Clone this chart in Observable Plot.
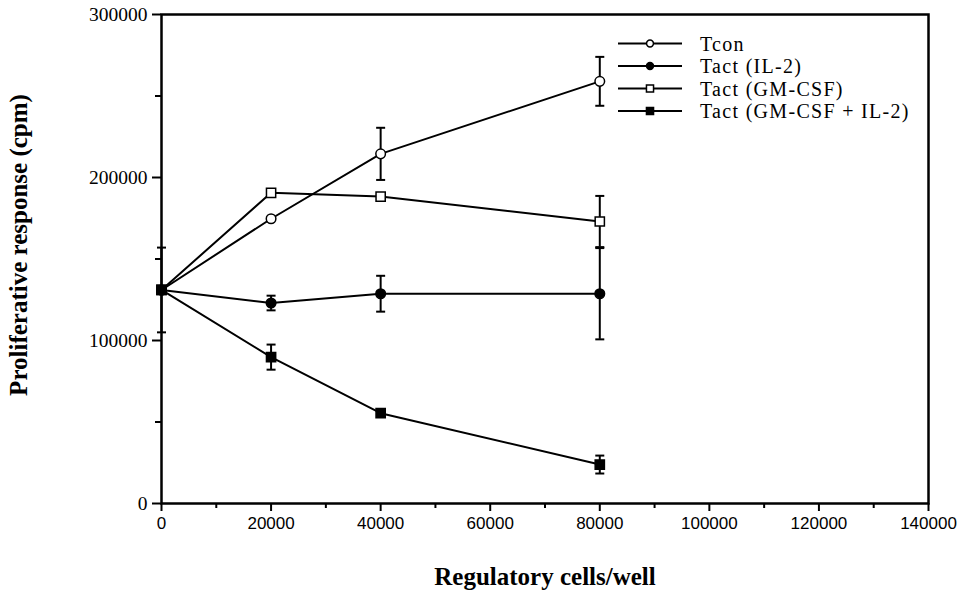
<!DOCTYPE html>
<html>
<head>
<meta charset="utf-8">
<script src="https://cdn.jsdelivr.net/npm/d3@7"></script>
<script src="https://cdn.jsdelivr.net/npm/@observablehq/plot@0.6"></script>
<style>
  html, body { margin: 0; padding: 0; background: #fff; }
  #chart svg { display: block; }
</style>
</head>
<body>
<div id="chart"></div>
<script>
// ---- data ----
const cellsPerWell = [0, 20000, 40000, 80000];
const seriesNames = ["Tcon", "Tact (IL-2)", "Tact (GM-CSF)", "Tact (GM-CSF + IL-2)"];
const tcon      = [131000, 174700, 214500, 259000];
const tconErr   = [26000, 0, 16000, 15000];
const tactIL2   = [131000, 123000, 128700, 128700];
const tactIL2Err= [0, 4500, 11000, 28000];
const tactGM    = [131000, 190600, 188300, 173000];
const tactGMErr = [0, 0, 0, 15700];
const tactGMIL2 = [131000, 89800, 55400, 23900];
const tactGMIL2Err = [0, 7700, 0, 5500];
const xMajorTicks = [0, 20000, 40000, 60000, 80000, 100000, 120000, 140000];
const xMinorTicks = [10000, 30000, 50000, 70000, 90000, 110000, 130000];
const yMajorTicks = [0, 100000, 200000, 300000];
const yMinorTicks = [50000, 150000, 250000];

const seriesValues = [tcon, tactIL2, tactGM, tactGMIL2];
const seriesErrors = [tconErr, tactIL2Err, tactGMErr, tactGMIL2Err];
const seriesSymbol = ["circle", "circle", "square", "square"];
const seriesFill = ["white", "black", "white", "black"];

const rows = [];
seriesNames.forEach((s, i) => {
  cellsPerWell.forEach((x, j) => {
    rows.push({series: s, si: i, x, y: seriesValues[i][j], err: seriesErrors[i][j]});
  });
});
const errRows = rows.filter(d => d.err > 0);
const caps = errRows.flatMap(d => [{x: d.x, y: d.y + d.err}, {x: d.x, y: d.y - d.err}]);

const capSymbol = {
  draw(context, size) {
    const w = Math.sqrt(size / Math.PI);
    context.moveTo(-w, 0);
    context.lineTo(w, 0);
  }
};

const serif = "'Liberation Serif', 'Times New Roman', serif";
const narrow = "'Liberation Sans Narrow', 'Arial Narrow', 'Liberation Sans', sans-serif";

const marks = [
  Plot.axisX({ticks: xMajorTicks, tickSize: 8, tickPadding: 5, strokeWidth: 2,
    tickFormat: d => String(d), fontFamily: narrow, fontSize: 17, label: null}),
  Plot.axisX({ticks: xMinorTicks, tickSize: 5, strokeWidth: 2, tickFormat: () => "", label: null}),
  Plot.axisY({ticks: yMajorTicks, tickSize: 9, tickPadding: 5, strokeWidth: 2,
    tickFormat: d => String(d), fontFamily: serif, fontSize: 19.5, label: null}),
  Plot.axisY({ticks: yMinorTicks, tickSize: 6, strokeWidth: 2, tickFormat: () => "", label: null}),
  Plot.frame({stroke: "black", strokeWidth: 2.5}),
  Plot.text(["Regulatory cells/well"], {frameAnchor: "bottom", dy: 73, textAnchor: "middle",
    lineAnchor: "middle", fontFamily: serif, fontWeight: "bold", fontSize: 25,
    style: {letterSpacing: "2px"}}),
  Plot.text(["Proliferative response (cpm)"], {frameAnchor: "left", dx: -143, dy: -14, rotate: -90,
    textAnchor: "middle", lineAnchor: "middle", fontFamily: serif, fontWeight: "bold", fontSize: 25}),
  Plot.line(rows, {x: "x", y: "y", z: "series", stroke: "black", strokeWidth: 2}),
  Plot.ruleX(errRows, {x: "x", y1: d => d.y - d.err, y2: d => d.y + d.err, stroke: "black", strokeWidth: 2}),
  Plot.dot(caps, {x: "x", y: "y", symbol: capSymbol, r: 4.5, stroke: "black", strokeWidth: 2}),
  Plot.dot(rows, {x: "x", y: "y", symbol: d => seriesSymbol[d.si], r: d => seriesSymbol[d.si] === "square" ? 5.2 : 4.8,
    fill: d => seriesFill[d.si], stroke: "black", strokeWidth: 1.5})
];

const chart = Plot.plot({
  width: 964,
  height: 591,
  marginLeft: 161,
  marginRight: 36,
  marginTop: 14,
  marginBottom: 88,
  style: {background: "white", color: "black", fontFamily: serif},
  x: {domain: [0, 140000], axis: null},
  y: {domain: [0, 300000], axis: null},
  symbol: {type: "identity"},
  r: {type: "identity"},
  marks
});

// legend (inside the frame, top right)
const svg = d3.select(chart);
const lg = svg.append("g").attr("class", "legend");
seriesNames.forEach((name, i) => {
  const cy = 43.5 + i * 22.5;
  const g = lg.append("g").attr("transform", `translate(0,${cy})`);
  g.append("line").attr("x1", 618).attr("x2", 682).attr("y1", 0).attr("y2", 0)
    .attr("stroke", "black").attr("stroke-width", 2);
  const sym = d3.symbol(seriesSymbol[i] === "square" ? d3.symbolSquare : d3.symbolCircle,
    seriesSymbol[i] === "square" ? Math.PI * 16 : Math.PI * 12)();
  g.append("path").attr("d", sym).attr("transform", "translate(650,0)")
    .attr("fill", seriesFill[i]).attr("stroke", "black").attr("stroke-width", 1.5);
  g.append("text").attr("x", 700).attr("y", 0).attr("dy", "0.35em")
    .attr("text-anchor", "start").style("letter-spacing", "1.3px")
    .attr("font-family", serif).attr("font-size", 20).attr("fill", "black").text(name);
});

document.getElementById("chart").appendChild(chart);
</script>
</body>
</html>
